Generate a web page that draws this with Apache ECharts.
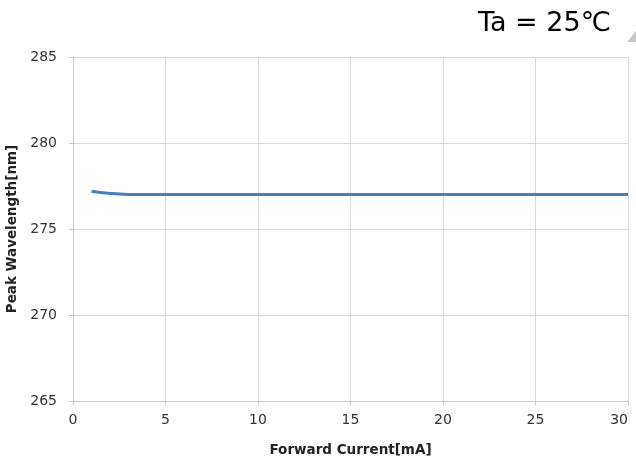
<!DOCTYPE html>
<html><head><meta charset="utf-8">
<script src="https://cdn.jsdelivr.net/npm/echarts@6/dist/echarts.min.js"></script>
<style>html,body{margin:0;padding:0;background:#fff}#c{width:636px;height:461px}</style>
</head><body><div id="c"></div>
<script>
const current = [1, 2, 3, 4, 5, 10, 15, 20, 25, 30];
const wavelength = [277.2, 277.07, 277.01, 277.0, 277.0, 277.0, 277.0, 277.0, 277.0, 277.0];
const titleText = 'Ta = 25℃';
const xName = 'Forward Current[mA]';
const yName = 'Peak Wavelength[nm]';

const chart = echarts.init(document.getElementById('c'), null, {renderer: 'canvas'});
const font = 'Verdana, "DejaVu Sans", sans-serif';
chart.setOption({
  animation: false,
  title: {
    text: titleText, right: 20, top: 5,
    textStyle: {fontFamily: '"DejaVu Sans", "Noto Sans CJK JP", sans-serif', fontSize: 27, fontWeight: 'normal', color: '#000'}
  },
  graphic: [{
    type: 'polygon', shape: {points: [[627, 42], [636, 42], [636, 31]]},
    style: {fill: '#c8c8c8'}
  }],
  grid: {left: 73, right: 8, top: 57, bottom: 60, containLabel: false, outerBoundsMode: 'none'},
  xAxis: {
    type: 'value', min: 0, max: 30, interval: 5,
    name: xName, nameLocation: 'middle', nameGap: 42,
    nameTextStyle: {fontFamily: font, fontSize: 13.5, fontWeight: 'bold', color: '#222'},
    axisLine: {show: true, lineStyle: {color: '#c8c8c8', width: 1}},
    axisTick: {show: true, length: 4, lineStyle: {color: '#c8c8c8'}},
    axisLabel: {fontFamily: font, fontSize: 14, color: '#333', margin: 12, alignMaxLabel: 'right'},
    splitLine: {show: true, lineStyle: {color: '#d9d9d9', width: 1}}
  },
  yAxis: {
    type: 'value', min: 265, max: 285, interval: 5,
    name: yName, nameLocation: 'middle', nameGap: 48,
    nameTextStyle: {fontFamily: font, fontSize: 13.5, fontWeight: 'bold', color: '#222'},
    axisLine: {show: true, lineStyle: {color: '#c8c8c8', width: 1}},
    axisTick: {show: true, length: 4, lineStyle: {color: '#c8c8c8'}},
    axisLabel: {fontFamily: font, fontSize: 14, color: '#333', margin: 16},
    splitLine: {show: true, lineStyle: {color: '#d9d9d9', width: 1}}
  },
  series: [{
    type: 'line', smooth: true, symbol: 'none',
    data: current.map((x, i) => [x, wavelength[i]]),
    lineStyle: {color: '#4a7ebb', width: 3}
  }]
});
</script></body></html>
